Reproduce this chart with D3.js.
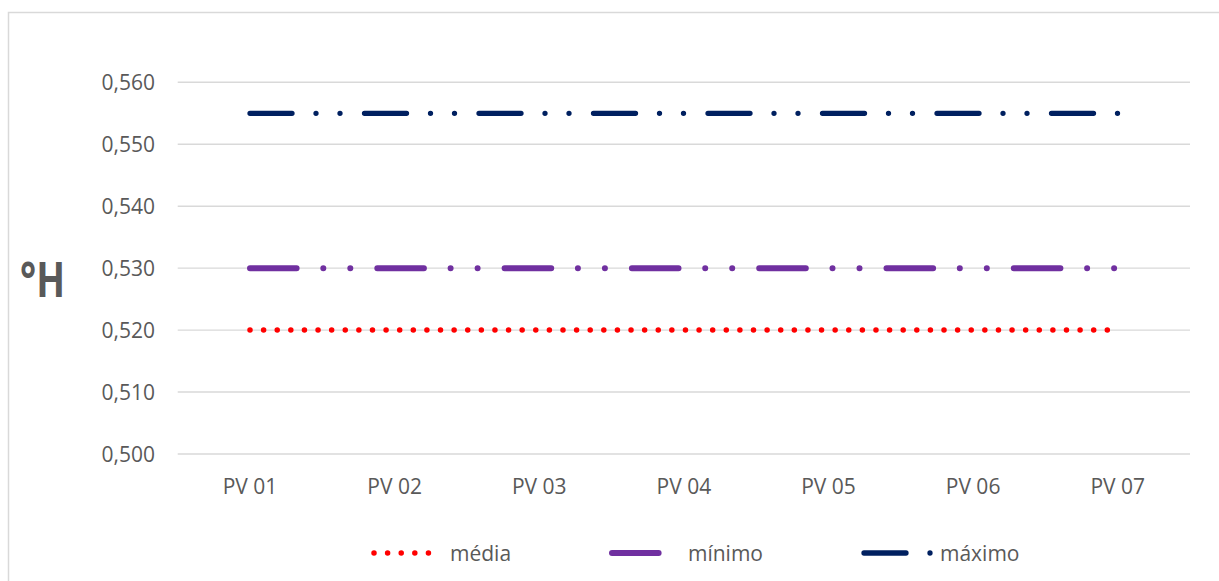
<!DOCTYPE html>
<html>
<head>
<meta charset="utf-8">
<script src="https://cdn.jsdelivr.net/npm/d3@7/dist/d3.min.js"></script>
<style>
  html, body { margin: 0; padding: 0; background: #fff; }
  svg { display: block; }
  text { font-family: "Open Sans", sans-serif; fill: #595959; }
</style>
</head>
<body>
<svg id="chart" width="1219" height="581"></svg>
<script>
// ---- data ----
const categories = ["PV 01", "PV 02", "PV 03", "PV 04", "PV 05", "PV 06", "PV 07"];
const media  = [0.520, 0.520, 0.520, 0.520, 0.520, 0.520, 0.520];
const minimo = [0.530, 0.530, 0.530, 0.530, 0.530, 0.530, 0.530];
const maximo = [0.555, 0.555, 0.555, 0.555, 0.555, 0.555, 0.555];
const yTicks = [0.500, 0.510, 0.520, 0.530, 0.540, 0.550, 0.560];
const seriesNames = ["média", "mínimo", "máximo"];
const yTitle = "°H";

// ---- styles ----
const styles = [
  { color: "#ff0000", width: 5.5, dash: "0 13.608" },
  { color: "#7030a0", width: 6,   dash: "46.6 26.7 0 27 0 27" },
  { color: "#002060", width: 5.3, dash: "42 24 0 24 0 24.5" }
];
const seriesData = [media, minimo, maximo];

const svg = d3.select("#chart");

// chart border
svg.append("rect")
  .attr("x", 8.5).attr("y", 12.5)
  .attr("width", 1300).attr("height", 700)
  .attr("fill", "none").attr("stroke", "#d9d9d9").attr("stroke-width", 1.5);

const x = d3.scaleBand().domain(categories).range([177.7, 1190]).padding(0);
const y = d3.scaleLinear().domain([0.5, 0.56]).range([454, 82.3]);
const cx = c => x(c) + x.bandwidth() / 2;

const locale = d3.formatLocale({ decimal: ",", thousands: ".", grouping: [3], currency: ["", ""] });
const fmt = locale.format(".3f");

// gridlines
svg.append("g").selectAll("line").data(yTicks).join("line")
  .attr("x1", 177.7).attr("x2", 1190)
  .attr("y1", d => y(d)).attr("y2", d => y(d))
  .attr("stroke", "#d9d9d9").attr("stroke-width", 1.4);

// y tick labels
svg.append("g").selectAll("text").data(yTicks).join("text")
  .attr("x", 155).attr("y", d => y(d))
  .attr("dy", "0.36em")
  .attr("text-anchor", "end")
  .style("font-size", "21px")
  .text(d => fmt(d));

// x labels
svg.append("g").selectAll("text").data(categories).join("text")
  .attr("x", d => cx(d)).attr("y", 486)
  .attr("dy", "0.36em")
  .attr("text-anchor", "middle")
  .style("font-size", "21px")
  .text(d => d);

// y title
svg.append("text")
  .attr("x", 20).attr("y", 297)
  .attr("textLength", 45).attr("lengthAdjust", "spacingAndGlyphs")
  .style("font-size", "49px").style("font-weight", "bold")
  .text(yTitle);

// series lines
const line = d3.line().x((d, i) => cx(categories[i])).y(d => y(d));
seriesData.forEach((vals, k) => {
  svg.append("path")
    .datum(vals)
    .attr("d", line)
    .attr("fill", "none")
    .attr("stroke", styles[k].color)
    .attr("stroke-width", styles[k].width)
    .attr("stroke-linecap", "round")
    .attr("stroke-dasharray", styles[k].dash);
});

// legend
const legX = [374, 612, 864];
const legY = 553;
seriesNames.forEach((name, k) => {
  svg.append("line")
    .attr("x1", legX[k]).attr("x2", legX[k] + 67)
    .attr("y1", legY).attr("y2", legY)
    .attr("stroke", styles[k].color)
    .attr("stroke-width", styles[k].width)
    .attr("stroke-linecap", "round")
    .attr("stroke-dasharray", styles[k].dash);
  svg.append("text")
    .attr("x", legX[k] + 76).attr("y", legY)
    .attr("dy", "0.36em")
    .style("font-size", "21px")
    .text(name);
});
</script>
</body>
</html>
